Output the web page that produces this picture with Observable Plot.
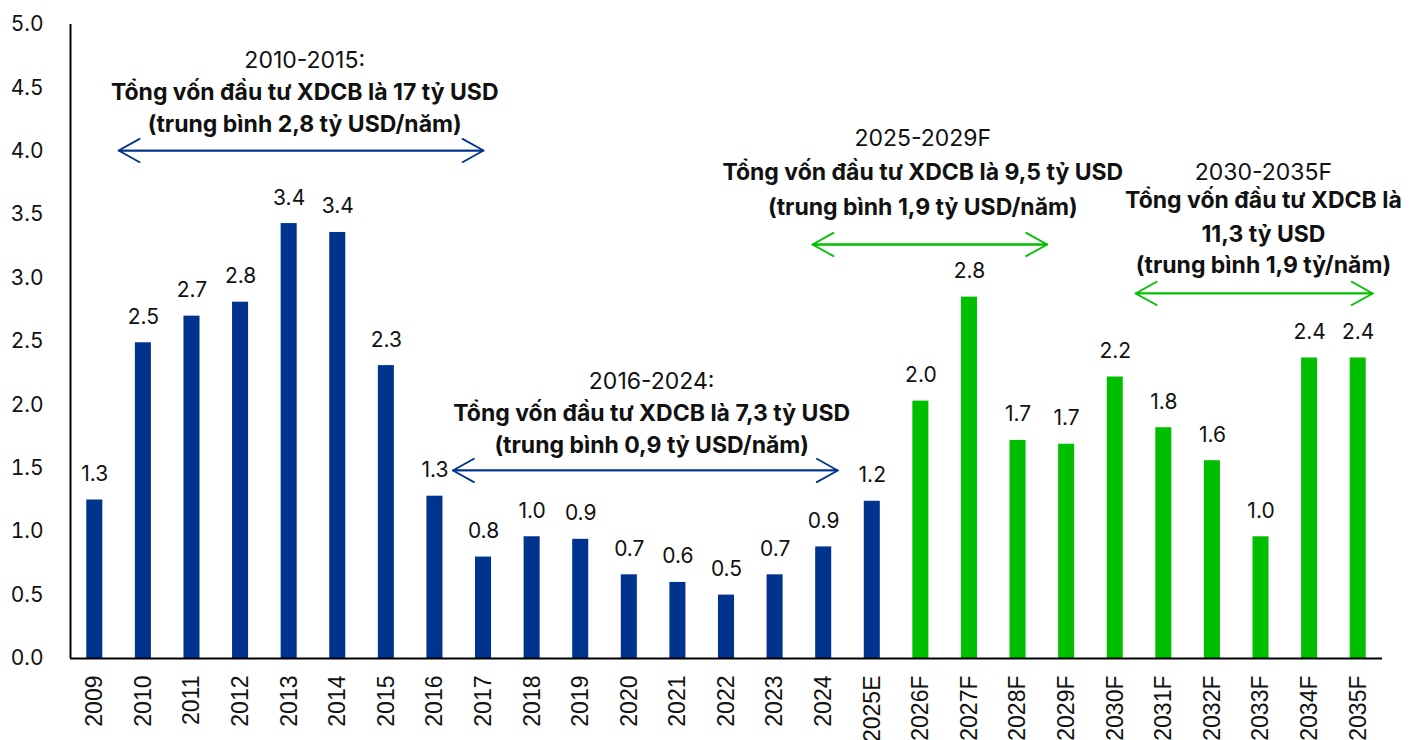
<!DOCTYPE html>
<html>
<head>
<meta charset="utf-8">
<script src="https://cdn.jsdelivr.net/npm/d3@7"></script>
<script src="https://cdn.jsdelivr.net/npm/@observablehq/plot@0.6"></script>
<style>
  html, body { margin: 0; padding: 0; background: #fff; overflow: hidden; }
</style>
</head>
<body>
<div id="chart"></div>
<script>
// ---- Data ----
const categories = ["2009","2010","2011","2012","2013","2014","2015","2016","2017","2018","2019","2020","2021","2022","2023","2024","2025E","2026F","2027F","2028F","2029F","2030F","2031F","2032F","2033F","2034F","2035F"];
const values = [1.25, 2.49, 2.70, 2.81, 3.43, 3.36, 2.31, 1.28, 0.80, 0.96, 0.94, 0.66, 0.60, 0.50, 0.66, 0.88, 1.24, 2.03, 2.85, 1.72, 1.69, 2.22, 1.82, 1.56, 0.96, 2.37, 2.37];
const valueLabels = ["1.3","2.5","2.7","2.8","3.4","3.4","2.3","1.3","0.8","1.0","0.9","0.7","0.6","0.5","0.7","0.9","1.2","2.0","2.8","1.7","1.7","2.2","1.8","1.6","1.0","2.4","2.4"];
const seriesNames = ["Thực tế / ước tính", "Dự báo"];
const seriesOf = categories.map(c => c.endsWith("F") ? seriesNames[1] : seriesNames[0]);
const yTicks = [0, 0.5, 1, 1.5, 2, 2.5, 3, 3.5, 4, 4.5, 5];

// Period annotations
const periodTitles = ["2010-2015:", "2016-2024:", "2025-2029F", "2030-2035F"];
const periodBodies = [
  ["Tổng vốn đầu tư XDCB là 17 tỷ USD", "(trung bình 2,8 tỷ USD/năm)"],
  ["Tổng vốn đầu tư XDCB là 7,3 tỷ USD", "(trung bình 0,9 tỷ USD/năm)"],
  ["Tổng vốn đầu tư XDCB là 9,5 tỷ USD", "(trung bình 1,9 tỷ USD/năm)"],
  ["Tổng vốn đầu tư XDCB là", "11,3 tỷ USD", "(trung bình 1,9 tỷ/năm)"]
];
const periodSeries = [seriesNames[0], seriesNames[0], seriesNames[1], seriesNames[1]];

// ---- Layout of annotations (x in category index units, y in value units) ----
const annCenterX = [4.32, 11.46, 17.04, 24.05];
const annTitleY = [4.716, 2.181, 4.101, 3.830];
const annBodyY = [[4.460, 4.211], [1.932, 1.680], [3.833, 3.557], [3.612, 3.344, 3.099]];
const arrowFrom = [0.49, 7.37, 14.77, 21.42];
const arrowTo = [8.0, 15.29, 19.6, 26.3];
const arrowY = [4.006, 1.483, 3.265, 2.879];

const colors = ["#00338D", "#00BF00"];

const rows = categories.map((c, i) => ({i, category: c, value: values[i], label: valueLabels[i], series: seriesOf[i]}));
const titles = periodTitles.map((t, k) => ({x: annCenterX[k], y: annTitleY[k], text: t}));
const bodyLines = periodBodies.flatMap((lines, k) => lines.map((t, j) => ({x: annCenterX[k], y: annBodyY[k][j], text: t})));
const arrows = periodTitles.map((t, k) => ({a: arrowFrom[k], b: arrowTo[k], y: arrowY[k], series: periodSeries[k]}));

const chart = Plot.plot({
  width: 1419,
  height: 740,
  marginLeft: 70,
  marginRight: 37,
  marginTop: 24,
  marginBottom: 82,
  x: {domain: [-0.5, categories.length - 0.5], axis: null},
  y: {domain: [0, 5], axis: null},
  color: {domain: seriesNames, range: colors},
  style: {fontFamily: "Inter, 'Noto Sans', sans-serif", color: "#111", background: "#fff", overflow: "visible"},
  marks: [
    Plot.rect(rows, {x1: d => d.i - 0.165, x2: d => d.i + 0.165, y1: 0, y2: "value", fill: "series"}),
    Plot.text(rows, {x: "i", y: "value", text: "label", lineAnchor: "bottom", dy: -19, fontSize: 21, fill: "#111"}),
    Plot.axisY({ticks: yTicks, tickFormat: d3.format(".1f"), tickSize: 0, tickPadding: 27, fontSize: 21, fill: "#111"}),
    Plot.axisX({ticks: d3.range(categories.length), tickFormat: i => categories[i], tickRotate: -90, tickSize: 0, tickPadding: 17, fontSize: 23, fontFamily: "'Liberation Sans', Arial, sans-serif", fill: "#111"}),
    Plot.ruleY([0], {stroke: "#000", strokeWidth: 2.2}),
    Plot.ruleX([-0.5], {stroke: "#000", strokeWidth: 2}),
    Plot.arrow(arrows, {x1: "a", x2: "b", y1: "y", y2: "y", stroke: "series", strokeWidth: 1.8, headLength: 20, headAngle: 58}),
    Plot.arrow(arrows, {x1: "b", x2: "a", y1: "y", y2: "y", stroke: "series", strokeWidth: 1.8, headLength: 20, headAngle: 58}),
    Plot.text(titles, {x: "x", y: "y", text: "text", fontSize: 23, fill: "#111"}),
    Plot.text(bodyLines, {x: "x", y: "y", text: "text", fontSize: 23, fontWeight: "bold", fill: "#111"})
  ]
});
document.getElementById("chart").append(chart);
</script>
</body>
</html>
